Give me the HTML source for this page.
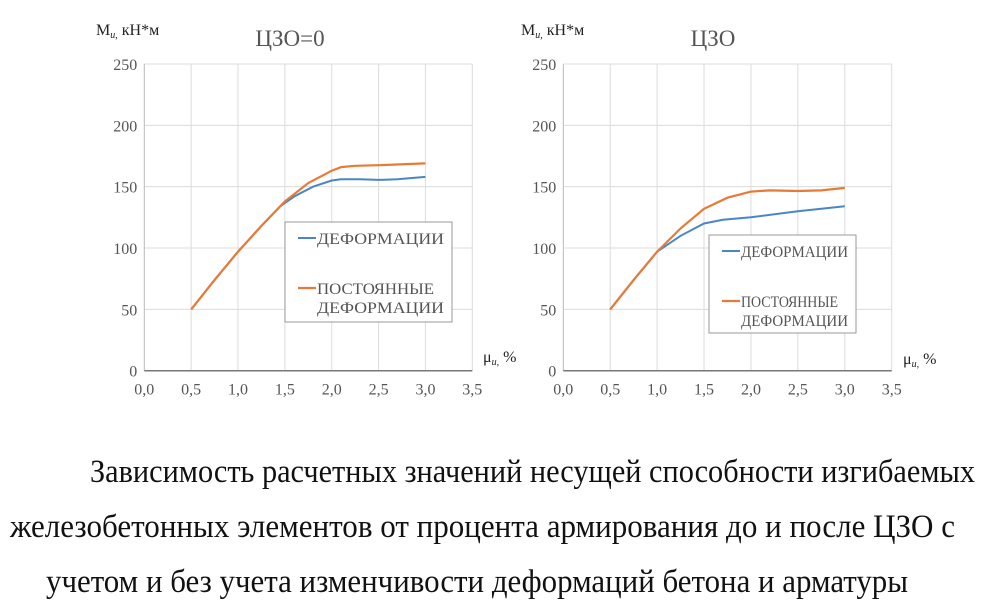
<!DOCTYPE html>
<html><head><meta charset="utf-8"><style>
html,body{margin:0;padding:0;background:#fff;}
svg{display:block;}
text{font-family:"Liberation Serif",serif;}
</style></head><body>
<svg width="1000" height="609" xmlns="http://www.w3.org/2000/svg">
<g id="c1"></g><g id="c2"></g>
<text x="90" y="482" font-size="33" fill="#111" textLength="885" lengthAdjust="spacingAndGlyphs">Зависимость расчетных значений несущей способности изгибаемых</text>
<text x="10" y="537" font-size="33" fill="#111" textLength="945" lengthAdjust="spacingAndGlyphs">железобетонных элементов от процента армирования до и после ЦЗО с</text>
<text x="46" y="592" font-size="33" fill="#111" textLength="862" lengthAdjust="spacingAndGlyphs">учетом и без учета изменчивости деформаций бетона и арматуры</text>
</svg>
<script>
function build(id,x0,x35,title,titleX,ylabX,muX,muY,leg,orange,blue){
  const g=document.getElementById(id);
  const y0=370.7,y250=64;
  const X=v=>x0+v*(x35-x0)/3.5, Y=v=>y0-v*(y0-y250)/250;
  let s='';
  for(let i=1;i<=7;i++){s+=`<line x1="${X(i*0.5)}" y1="${y250}" x2="${X(i*0.5)}" y2="${y0}" stroke="#dcdcdc" stroke-width="1"/>`;}
  for(let i=1;i<=5;i++){s+=`<line x1="${x0}" y1="${Y(i*50)}" x2="${x35}" y2="${Y(i*50)}" stroke="#dcdcdc" stroke-width="1"/>`;}
  s+=`<line x1="${x0}" y1="${y250}" x2="${x0}" y2="${y0}" stroke="#bbb"/>`;
  s+=`<line x1="${x0}" y1="${y0}" x2="${x35}" y2="${y0}" stroke="#777" stroke-width="1.5"/>`;
  for(let i=0;i<=5;i++){s+=`<text x="${x0-7}" y="${Y(i*50)+6}" font-size="16" fill="#555" text-anchor="end">${i*50}</text>`;}
  for(let i=0;i<=7;i++){s+=`<text x="${X(i*0.5)}" y="${y0+24}" font-size="16" fill="#555" text-anchor="middle">${(i*0.5).toFixed(1).replace('.',',')}</text>`;}
  const pts=a=>a.map(p=>X(p[0]).toFixed(1)+','+Y(p[1]).toFixed(1)).join(' ');
  s+=`<polyline points="${pts(blue)}" fill="none" stroke="#4a86c5" stroke-width="2"/>`;
  s+=`<polyline points="${pts(orange)}" fill="none" stroke="#e87a35" stroke-width="2.2"/>`;
  s+=`<text x="${titleX}" y="46" font-size="23" fill="#555" text-anchor="middle">${title}</text>`;
  s+=`<text x="${ylabX}" y="35" font-size="16" fill="#222">M<tspan font-size="10" font-style="italic" dy="3">и,</tspan><tspan dy="-3"> кН*м</tspan></text>`;
  s+=`<text x="${muX}" y="${muY}" font-size="16" fill="#222">μ<tspan font-size="10" font-style="italic" dy="3">и,</tspan><tspan dy="-3"> %</tspan></text>`;
  const [lx1,ly1,lx2,ly2]=leg;
  s+=`<rect x="${lx1}" y="${ly1}" width="${lx2-lx1}" height="${ly2-ly1}" fill="#fff" stroke="#999"/>`;
  s+=`<line x1="${lx1+13}" y1="${ly1+16}" x2="${lx1+31}" y2="${ly1+16}" stroke="#4a86c5" stroke-width="2"/>`;
  s+=`<text x="${lx1+32}" y="${ly1+22}" font-size="16" fill="#555" textLength="${lx2-lx1-40}" lengthAdjust="spacingAndGlyphs">ДЕФОРМАЦИИ</text>`;
  s+=`<line x1="${lx1+13}" y1="${ly1+66}" x2="${lx1+31}" y2="${ly1+66}" stroke="#e87a35" stroke-width="2.2"/>`;
  s+=`<text x="${lx1+32}" y="${ly1+72}" font-size="16" fill="#555" textLength="${lx2-lx1-50}" lengthAdjust="spacingAndGlyphs">ПОСТОЯННЫЕ</text>`;
  s+=`<text x="${lx1+32}" y="${ly1+91}" font-size="16" fill="#555" textLength="${lx2-lx1-40}" lengthAdjust="spacingAndGlyphs">ДЕФОРМАЦИИ</text>`;
  g.innerHTML=s;
}
build('c1',144.3,472.3,'ЦЗО=0',290,96,483,362,[285,222,452,322],
 [[0.5,50],[0.75,74],[1.0,97],[1.25,118],[1.5,138],[1.75,153],[2.0,163],[2.1,166],[2.25,167],[2.5,167.5],[3.0,169]],
 [[0.5,50],[0.75,74],[1.0,97],[1.25,118],[1.45,134],[1.6,142],[1.8,150],[2.0,155],[2.1,156],[2.3,156],[2.5,155.5],[2.7,156],[3.0,158]]);
build('c2',563.3,891.7,'ЦЗО',713,521,903,364,[709,235,856,333],
 [[0.5,50],[0.75,74],[1.0,97],[1.25,116],[1.5,132],[1.75,141],[2.0,146],[2.2,147],[2.5,146.5],[2.75,147],[3.0,149]],
 [[0.5,50],[0.75,74],[1.0,97],[1.25,110],[1.5,120],[1.7,123],[2.0,125],[2.5,130],[3.0,134]]);
</script>
</body></html>
